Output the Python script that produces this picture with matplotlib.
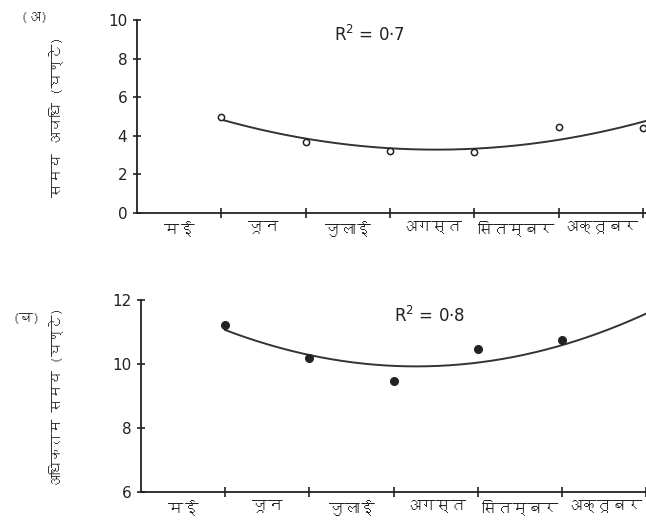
import numpy as np
import matplotlib
matplotlib.use("Agg")
import matplotlib.pyplot as plt
from matplotlib import font_manager
from matplotlib.ft2font import FT2Font

# ---- data ----
months = ["मई", "जून", "जुलाई", "अगस्त", "सितम्बर", "अक्तूबर"]
top_x = [1, 2, 3, 4, 5, 6]
top_y = [5.0, 3.7, 3.2, 3.15, 4.45, 4.4]
bottom_x = [1, 2, 3, 4, 5]
bottom_y = [11.22, 10.19, 9.47, 10.47, 10.75]
# quadratic trend coefficients (c0, c1, c2) in t = x - 3.5
top_fit = [3.283, -0.023, 0.240]
bottom_fit = [9.937, 0.102, 0.221]
top_yticks = [0, 2, 4, 6, 8, 10]
bottom_yticks = [6, 8, 10, 12]
top_ylabel = "समय अवधि (घण्टे)"
bottom_ylabel = "अधिकतम समय (घण्टे)"
top_r2 = "R$^2$ = 0·7"
bottom_r2 = "R$^2$ = 0·8"

# ---- font with Devanagari ----
deva = None
for f in font_manager.fontManager.ttflist:
    try:
        ft = FT2Font(f.fname)
        if ft.get_char_index(0x0905) and ft.get_char_index(0x092E):
            deva = f.name
            break
    except Exception:
        pass
fams = ([deva] if deva else []) + ["DejaVu Sans"]
plt.rcParams["font.family"] = ["DejaVu Sans"]

ink = "#222222"
fig = plt.figure(figsize=(6.46, 5.26), dpi=100)

def style(ax, yticks, ylim, xmax):
    ax.set_xlim(0, xmax)
    ax.set_ylim(*ylim)
    for s in ["top", "right"]:
        ax.spines[s].set_visible(False)
    for s in ["left", "bottom"]:
        ax.spines[s].set_linewidth(1.3)
        ax.spines[s].set_color(ink)
    ax.set_yticks(yticks)
    ax.set_yticklabels([str(v) for v in yticks], fontsize=11, color=ink, family="DejaVu Sans")
    ax.set_xticks([1, 2, 3, 4, 5, 6])
    ax.set_xticklabels([])
    ax.set_xticks([0.5, 1.5, 2.5, 3.5, 4.5, 5.5], minor=True)
    ax.set_xticklabels(months, minor=True, fontsize=11, color=ink, family=fams)
    ax.tick_params(axis="x", which="major", direction="inout", length=7, width=1.2, color=ink)
    ax.tick_params(axis="x", which="minor", length=0, pad=6)
    ax.tick_params(axis="y", direction="inout", length=6, width=1.2, color=ink, pad=4)
    ax.patch.set_alpha(0)

def curve(ax, coef, x0=1.0, x1=6.05):
    xs = np.linspace(x0, x1, 200)
    t = xs - 3.5
    ys = coef[0] + coef[1] * t + coef[2] * t ** 2
    ax.plot(xs, ys, color="#333333", lw=1.4, clip_on=True)

# top panel
ax1 = fig.add_axes([137 / 646, 1 - 213 / 526, 509 / 646, 193 / 526])
style(ax1, top_yticks, (0, 10), 509 / 84.3)
curve(ax1, top_fit)
ax1.plot(top_x, top_y, "o", ms=4.5, mfc="white", mec=ink, mew=1.1, clip_on=True)
ax1.text(2.76, 9.2, top_r2, fontsize=12, color=ink, ha="center", va="center")
ax1.set_ylabel(top_ylabel, fontsize=10.5, color=ink, family=fams)
ax1.yaxis.set_label_coords(-0.145, 0.5)

# bottom panel
ax2 = fig.add_axes([141 / 646, 1 - 492 / 526, 505 / 646, 192 / 526])
style(ax2, bottom_yticks, (6, 12), 505 / 84.2)
curve(ax2, bottom_fit)
ax2.plot(bottom_x, bottom_y, "o", ms=5.5, mfc=ink, mec=ink, clip_on=True)
ax2.text(3.43, 11.5, bottom_r2, fontsize=12, color=ink, ha="center", va="center")
ax2.set_ylabel(bottom_ylabel, fontsize=10, color=ink, family=fams)
ax2.yaxis.set_label_coords(-0.155, 0.49)

fig.text(20 / 646, 1 - 17 / 526, "(अ)", fontsize=10, color=ink, ha="left", va="center",
         family=fams, fontweight="bold")
fig.text(12 / 646, 1 - 318 / 526, "(ब)", fontsize=10, color=ink, ha="left", va="center",
         family=fams, fontweight="bold")

fig.savefig("out.png", dpi=100)
